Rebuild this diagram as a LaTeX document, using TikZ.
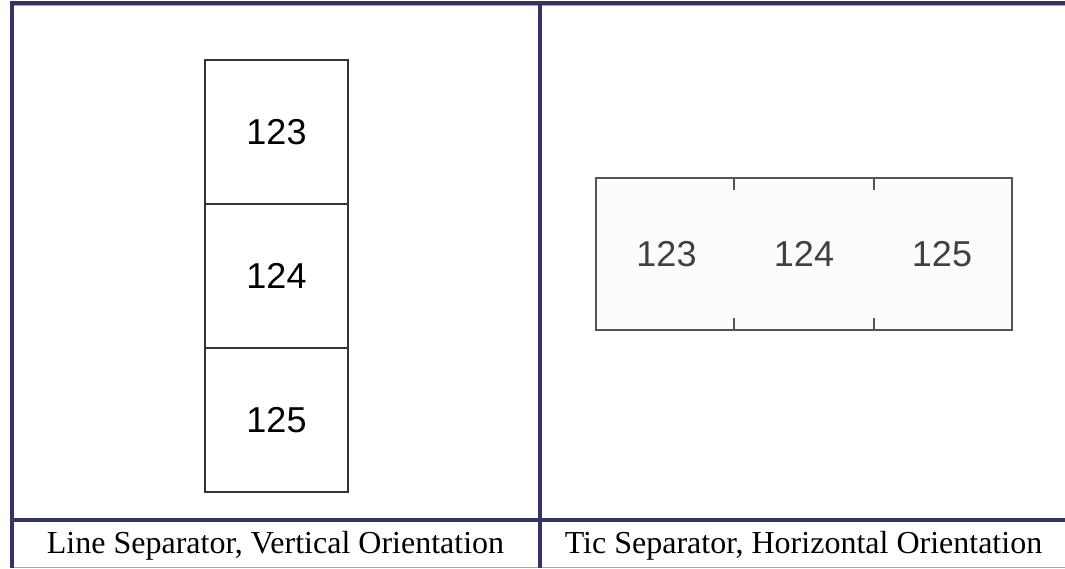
\documentclass[tikz,border=0pt]{standalone}
\usepackage{fontspec}
\setmainfont{Liberation Serif}
\newfontfamily\tagfont{Liberation Sans}
\usepackage{xcolor}
\definecolor{framenavy}{HTML}{333366}
\definecolor{framelight}{HTML}{A3A3D1}
\definecolor{tagline}{HTML}{555555}
\usetikzlibrary{positioning,calc}
\tikzset{
  frame/.style={draw=framenavy, line width=4pt},
  thin frame/.style={draw=framelight, line width=1.5pt},
  cell/.style={draw=black!80, line width=1.6pt, minimum width=143pt,
               minimum height=144pt, inner sep=0pt, outer sep=0pt,
               font=\tagfont\fontsize{36}{36}\selectfont},
  tagbox/.style={draw=tagline, line width=2pt, fill=black!1,
                 minimum width=416pt, minimum height=151pt, inner sep=0pt},
  tic/.style={draw=tagline, line width=2pt},
  num/.style={font=\tagfont\fontsize{36}{36}\selectfont, text=black!75},
  caption/.style={font=\fontsize{32}{32}\selectfont, inner sep=0pt, anchor=base},
}

\begin{document}
\begin{tikzpicture}[x=1pt, y=-1pt]
  \useasboundingbox (0,0) rectangle (1065,569);

  % table frame
  \draw[thin frame] (10,5.5) -- (1065,5.5);
  \draw[thin frame] (10,567.5) -- (1065,567.5);
  \draw[frame] (10,3) -- (1065,3);
  \draw[frame] (10,519.5) -- (1065,519.5);
  \draw[frame] (12,1) -- (12,568);
  \draw[frame] (540,1) -- (540,568);

  % line separator, vertical
  \node[cell] (c1) at (276.5,132) {123};
  \node[cell, below=0pt of c1] (c2) {124};
  \node[cell, below=0pt of c2] (c3) {125};

  % tic separator, horizontal
  \node[tagbox] (tag) at (804,254) {};
  \node[num] (n1) at (666.5,254) {123};
  \node[num] (n2) at (804,254) {124};
  \node[num] (n3) at (942,254) {125};
  \foreach \i in {1,2} {
    \coordinate (tt\i) at ($(tag.north west)!\i/3!(tag.north east)$);
    \coordinate (tb\i) at ($(tag.south west)!\i/3!(tag.south east)$);
    \draw[tic] (tt\i) -- ++(0,13);
    \draw[tic] (tb\i) -- ++(0,-13);
  }

  % captions
  \node[caption] (cap1) at (275.5,553) {Line Separator, Vertical Orientation};
  \node[caption] (cap2) at (803.5,553) {Tic Separator, Horizontal Orientation};
\end{tikzpicture}
\end{document}
